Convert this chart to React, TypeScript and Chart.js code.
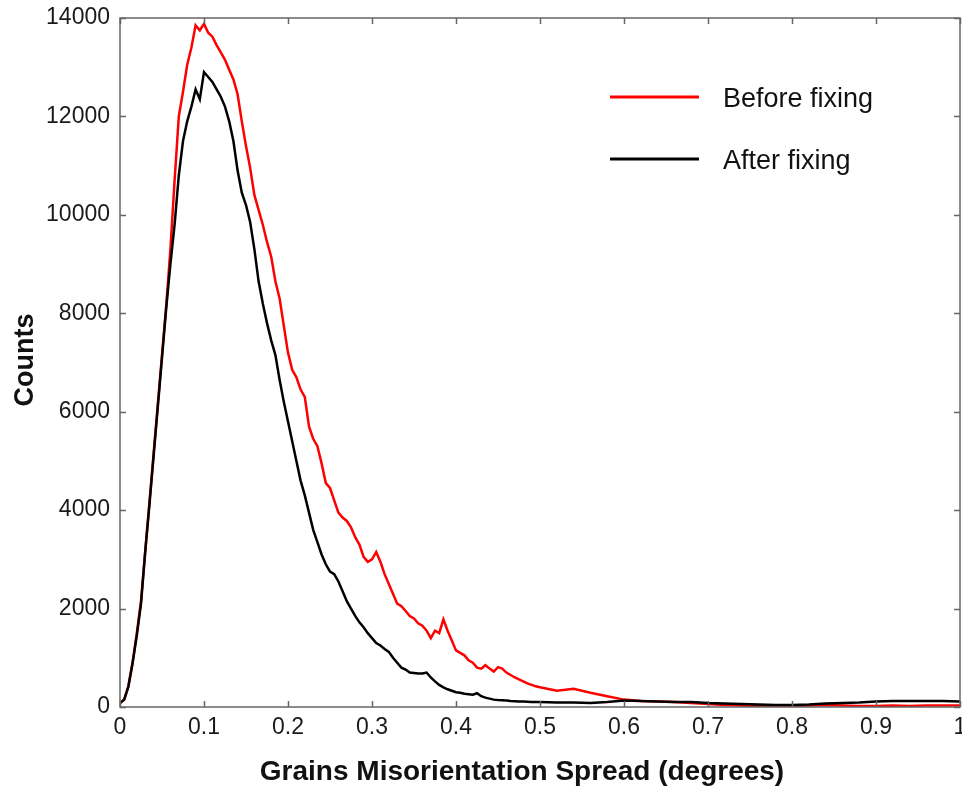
import { useEffect, useRef } from 'react';
import { Chart, registerables } from 'chart.js';

Chart.register(...registerables);

const xValues = [
  0, 0.005, 0.01, 0.015, 0.02, 0.025, 0.03, 0.035, 0.04, 0.045,
  0.05, 0.055, 0.06, 0.065, 0.07, 0.075, 0.08, 0.085, 0.09, 0.095,
  0.1, 0.105, 0.11, 0.115, 0.12, 0.125, 0.13, 0.135, 0.14, 0.145,
  0.15, 0.155, 0.16, 0.165, 0.17, 0.175, 0.18, 0.185, 0.19, 0.195,
  0.2, 0.205, 0.21, 0.215, 0.22, 0.225, 0.23, 0.235, 0.24, 0.245,
  0.25, 0.255, 0.26, 0.265, 0.27, 0.275, 0.28, 0.285, 0.29, 0.295,
  0.3, 0.305, 0.31, 0.315, 0.32, 0.325, 0.33, 0.335, 0.34, 0.345,
  0.35, 0.355, 0.36, 0.365, 0.37, 0.375, 0.38, 0.385, 0.39, 0.395,
  0.4, 0.405, 0.41, 0.415, 0.42, 0.425, 0.43, 0.435, 0.44, 0.445,
  0.45, 0.455, 0.46, 0.465, 0.47, 0.475, 0.48, 0.485, 0.49, 0.495,
  0.5, 0.52, 0.54, 0.56, 0.58, 0.6, 0.62, 0.64, 0.66, 0.68,
  0.7, 0.72, 0.74, 0.76, 0.78, 0.8, 0.82, 0.84, 0.86, 0.88,
  0.9, 0.92, 0.94, 0.96, 0.98, 1.0,
];

const beforeFixing = [
  80, 150, 420, 900, 1500, 2150, 3150, 4150, 5150, 6150,
  7150, 8150, 9300, 10700, 12000, 12500, 13050, 13400, 13850, 13750,
  13880, 13700, 13620, 13450, 13300, 13150, 12950, 12750, 12450, 11900,
  11400, 10950, 10400, 10100, 9800, 9450, 9150, 8650, 8300, 7750,
  7200, 6850, 6700, 6450, 6300, 5700, 5450, 5300, 4950, 4550,
  4450, 4200, 3950, 3850, 3780, 3650, 3450, 3300, 3050, 2950,
  3000, 3150, 2950, 2700, 2500, 2300, 2100, 2050, 1950, 1850,
  1800, 1700, 1650, 1550, 1400, 1550, 1500, 1780, 1550, 1350,
  1150, 1100, 1050, 950, 900, 800, 780, 850, 780, 720,
  810, 780, 700, 650, 600, 560, 520, 480, 450, 420,
  400, 330, 370, 290, 220, 150, 120, 110, 100, 80,
  60, 40, 30, 20, 20, 20, 30, 40, 30, 20,
  20, 30, 20, 30, 30, 30,
];

const afterFixing = [
  80, 150, 420, 900, 1450, 2100, 3150, 4100, 5100, 6100,
  7100, 8100, 9000, 9800, 10800, 11500, 11900, 12200, 12550, 12350,
  12900, 12800, 12700, 12550, 12400, 12200, 11900, 11500, 10900, 10450,
  10200, 9850, 9300, 8650, 8200, 7800, 7450, 7150, 6650, 6200,
  5800, 5400, 5000, 4600, 4300, 3950, 3600, 3350, 3100, 2900,
  2750, 2700, 2550, 2350, 2150, 2000, 1850, 1720, 1620, 1500,
  1400, 1300, 1250, 1180, 1120, 1000, 900, 800, 760, 700,
  690, 680, 680, 700, 600, 520, 450, 400, 360, 330,
  300, 290, 270, 260, 250, 280, 220, 190, 170, 150,
  140, 135, 130, 120, 115, 110, 110, 105, 100, 100,
  100, 90, 90, 80, 100, 130, 120, 110, 100, 100,
  80, 70, 60, 50, 40, 40, 50, 70, 80, 90,
  110, 120, 120, 120, 120, 110,
];

const seriesLabels = ['Before fixing', 'After fixing'];
const seriesColors = ['#ff0000', '#000000'];
const xTitle = 'Grains Misorientation Spread (degrees)';
const yTitle = 'Counts';
const xMin = 0;
const xMax = 1;
const xStep = 0.1;
const yMin = 0;
const yMax = 14000;
const yStep = 2000;

const FONT = '"Liberation Sans", Arial, Helvetica, sans-serif';

const decorPlugin = {
  id: 'decor',
  afterDatasetsDraw(chart: any) {
    const { ctx, chartArea, scales } = chart;
    const { left, right, top, bottom } = chartArea;
    ctx.save();
    // frame
    ctx.strokeStyle = '#666666';
    ctx.lineWidth = 1.5;
    ctx.strokeRect(left, top, right - left, bottom - top);
    // inward ticks
    const tl = 6;
    ctx.lineWidth = 1.5;
    ctx.beginPath();
    scales.x.ticks.forEach((t: any) => {
      const px = Math.round(scales.x.getPixelForValue(t.value)) + 0.5;
      ctx.moveTo(px, bottom);
      ctx.lineTo(px, bottom - tl);
      ctx.moveTo(px, top);
      ctx.lineTo(px, top + tl);
    });
    scales.y.ticks.forEach((t: any) => {
      const py = Math.round(scales.y.getPixelForValue(t.value)) + 0.5;
      ctx.moveTo(left, py);
      ctx.lineTo(left + tl, py);
      ctx.moveTo(right, py);
      ctx.lineTo(right - tl, py);
    });
    ctx.stroke();

    // axis titles
    ctx.fillStyle = '#111111';
    ctx.font = `bold 28px ${FONT}`;
    ctx.textAlign = 'center';
    ctx.textBaseline = 'alphabetic';
    ctx.fillText(xTitle, 522, 780);
    ctx.save();
    ctx.translate(33, 360);
    ctx.rotate(-Math.PI / 2);
    ctx.font = `bold 27px ${FONT}`;
    ctx.fillText(yTitle, 0, 0);
    ctx.restore();

    // legend
    const legendRows = [
      { lineY: 97, textY: 107 },
      { lineY: 159, textY: 169 },
    ];
    ctx.font = `27px ${FONT}`;
    ctx.textAlign = 'left';
    seriesLabels.forEach((label, i) => {
      ctx.strokeStyle = seriesColors[i];
      ctx.lineWidth = 3;
      ctx.beginPath();
      ctx.moveTo(610, legendRows[i].lineY);
      ctx.lineTo(699, legendRows[i].lineY);
      ctx.stroke();
      ctx.fillStyle = '#111111';
      ctx.fillText(label, 723, legendRows[i].textY);
    });
    ctx.restore();
  },
};

export default function App() {
  const canvasRef = useRef<HTMLCanvasElement | null>(null);

  useEffect(() => {
    document.body.style.margin = '0';
    const canvas = canvasRef.current;
    if (!canvas) return;
    const series = [beforeFixing, afterFixing];
    const chart = new Chart(canvas, {
      type: 'line',
      data: {
        datasets: series.map((vals, i) => ({
          label: seriesLabels[i],
          data: xValues.map((x, j) => ({ x, y: vals[j] })),
          borderColor: seriesColors[i],
          backgroundColor: seriesColors[i],
          borderWidth: 2.5,
          pointRadius: 0,
          tension: 0,
          fill: false,
          order: i === 0 ? 1 : 0,
        })),
      },
      options: {
        responsive: false,
        animation: false,
        devicePixelRatio: 1,
        layout: { padding: { top: 18, right: 2, left: 0, bottom: 0 } },
        plugins: {
          legend: { display: false },
          tooltip: { enabled: false },
          title: { display: false },
        },
        scales: {
          x: {
            type: 'linear',
            min: xMin,
            max: xMax,
            grid: { display: false, drawTicks: false },
            border: { display: false },
            ticks: {
              stepSize: xStep,
              autoSkip: false,
              maxRotation: 0,
              padding: 7,
              color: '#1a1a1a',
              font: { family: FONT, size: 23 },
              callback: (v: any) => String(Math.round(Number(v) * 10) / 10),
            },
            afterFit: (scale: any) => {
              scale.height = 80;
              scale.paddingLeft = 0;
              scale.paddingRight = 0;
            },
          },
          y: {
            type: 'linear',
            min: yMin,
            max: yMax,
            grid: { display: false, drawTicks: false },
            border: { display: false },
            ticks: {
              stepSize: yStep,
              autoSkip: false,
              padding: 10,
              color: '#1a1a1a',
              font: { family: FONT, size: 23 },
              callback: (v: any) => String(v),
            },
            afterFit: (scale: any) => {
              scale.width = 120;
              scale.paddingTop = 0;
              scale.paddingBottom = 0;
            },
          },
        },
      },
      plugins: [decorPlugin],
    });
    return () => chart.destroy();
  }, []);

  return (
    <div style={{ position: 'absolute', left: 0, top: 0, width: 962, height: 787, background: '#fff' }}>
      <canvas ref={canvasRef} width={962} height={787} style={{ display: 'block' }} />
    </div>
  );
}
